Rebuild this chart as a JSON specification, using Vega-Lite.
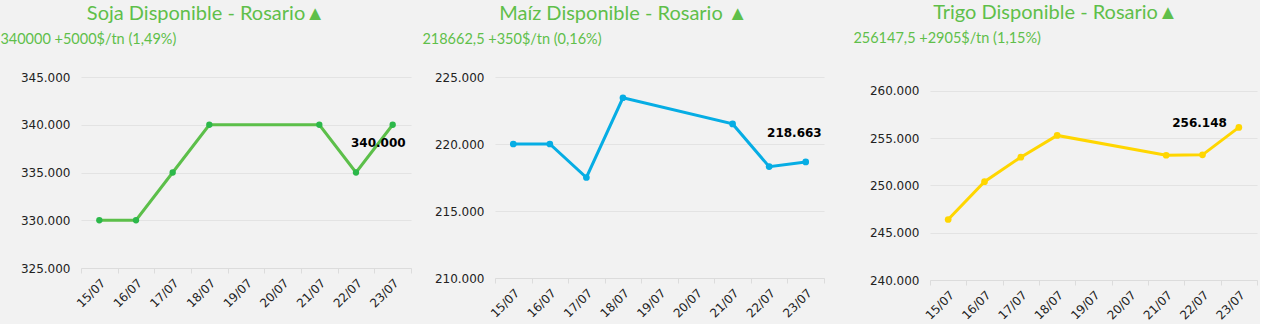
{
  "$schema": "https://vega.github.io/schema/vega-lite/v6.json",
  "background": "#f2f2f2",
  "padding": {"left": 0, "top": 2, "right": 2, "bottom": 2},
  "config": {
    "locale": {"number": {"decimal": ",", "thousands": ".", "grouping": [3], "currency": ["$", ""]}},
    "view": {"stroke": null},
    "font": "DejaVu Sans",
    "axisY": {"labelFont": "DejaVu Sans", "labelFontSize": 12, "labelColor": "#222222", "gridColor": "#e3e3e3", "domain": false, "ticks": false, "title": null, "labelPadding": 11},
    "axisX": {"labelFont": "DejaVu Sans", "labelFontSize": 12, "labelColor": "#222222", "grid": false, "domain": true, "domainColor": "#dcdcdc", "ticks": true, "tickColor": "#dcdcdc", "tickSize": 5, "labelAngle": -45, "tickBand": "extent", "title": null, "labelPadding": 4}
  },
  "datasets": {
    "soja": [
      {"fecha": "15/07", "valor": 330000},
      {"fecha": "16/07", "valor": 330000},
      {"fecha": "17/07", "valor": 335000},
      {"fecha": "18/07", "valor": 340000},
      {"fecha": "21/07", "valor": 340000},
      {"fecha": "22/07", "valor": 335000},
      {"fecha": "23/07", "valor": 340000}
    ],
    "maiz": [
      {"fecha": "15/07", "valor": 220000},
      {"fecha": "16/07", "valor": 220000},
      {"fecha": "17/07", "valor": 217500},
      {"fecha": "18/07", "valor": 223450},
      {"fecha": "21/07", "valor": 221500},
      {"fecha": "22/07", "valor": 218312.5},
      {"fecha": "23/07", "valor": 218662.5}
    ],
    "trigo": [
      {"fecha": "15/07", "valor": 246400},
      {"fecha": "16/07", "valor": 250400},
      {"fecha": "17/07", "valor": 253000},
      {"fecha": "18/07", "valor": 255300},
      {"fecha": "21/07", "valor": 253200},
      {"fecha": "22/07", "valor": 253242.5},
      {"fecha": "23/07", "valor": 256147.5}
    ]
  },
  "spacing": 10,
  "hconcat": [
    {
      "title": {"text": "Soja Disponible - Rosario▲", "anchor": "middle", "frame": "bounds", "font": "Lato", "fontSize": 20, "fontWeight": "normal", "color": "#5fbf4a", "offset": 8},
      "vconcat": [
        {
          "title": {"text": "340000 +5000$/tn (1,49%)", "anchor": "start", "frame": "bounds", "dx": -20, "font": "Lato", "fontSize": 14.5, "fontWeight": "normal", "color": "#5fbf4a", "offset": 24},
          "width": 330,
          "height": 191,
          "data": {"name": "soja"},
          "encoding": {
            "x": {"field": "fecha", "type": "ordinal", "scale": {"type": "band", "domain": ["15/07", "16/07", "17/07", "18/07", "19/07", "20/07", "21/07", "22/07", "23/07"], "paddingInner": 0, "paddingOuter": 0}},
            "y": {"field": "valor", "type": "quantitative", "scale": {"domain": [325000, 345000], "nice": false, "zero": false}, "axis": {"values": [325000, 330000, 335000, 340000, 345000], "format": ",d"}}
          },
          "layer": [
            {"mark": {"type": "line", "color": "#5cbf4a", "strokeWidth": 3}},
            {"mark": {"type": "point", "filled": true, "size": 40, "color": "#2cb84a", "opacity": 1}},
            {"transform": [{"filter": "datum.fecha == '23/07'"}], "mark": {"type": "text", "font": "DejaVu Sans", "fontWeight": "bold", "fontSize": 12, "align": "right", "baseline": "middle", "dx": 13, "dy": 18, "color": "#000000"}, "encoding": {"text": {"field": "valor", "type": "quantitative", "format": ",.0f"}}}
          ]
        }
      ]
    },
    {
      "spacing": 28,
      "hconcat": [
        {
          "title": {"text": "Maíz Disponible - Rosario ▲", "anchor": "middle", "frame": "bounds", "font": "Lato", "fontSize": 20, "fontWeight": "normal", "color": "#5fbf4a", "offset": 8},
          "vconcat": [
            {
              "title": {"text": "218662,5 +350$/tn (0,16%)", "anchor": "start", "frame": "bounds", "dx": -12, "font": "Lato", "fontSize": 14.5, "fontWeight": "normal", "color": "#5fbf4a", "offset": 24},
              "width": 329,
              "height": 201,
              "data": {"name": "maiz"},
              "encoding": {
                "x": {"field": "fecha", "type": "ordinal", "scale": {"type": "band", "domain": ["15/07", "16/07", "17/07", "18/07", "19/07", "20/07", "21/07", "22/07", "23/07"], "paddingInner": 0, "paddingOuter": 0}},
                "y": {"field": "valor", "type": "quantitative", "scale": {"domain": [210000, 225000], "nice": false, "zero": false}, "axis": {"values": [210000, 215000, 220000, 225000], "format": ",d"}}
              },
              "layer": [
                {"mark": {"type": "line", "color": "#06ade4", "strokeWidth": 3}},
                {"mark": {"type": "point", "filled": true, "size": 45, "color": "#06ade4", "opacity": 1}},
                {"transform": [{"filter": "datum.fecha == '23/07'"}], "mark": {"type": "text", "font": "DejaVu Sans", "fontWeight": "bold", "fontSize": 12, "align": "right", "baseline": "middle", "dx": 16, "dy": -29, "color": "#000000"}, "encoding": {"text": {"field": "valor", "type": "quantitative", "format": ",.0f"}}}
              ]
            }
          ]
        },
        {
          "title": {"text": "Trigo Disponible - Rosario▲", "anchor": "middle", "frame": "bounds", "font": "Lato", "fontSize": 20, "fontWeight": "normal", "color": "#5fbf4a", "offset": 8},
          "vconcat": [
            {
              "title": {"text": "256147,5 +2905$/tn (1,15%)", "anchor": "start", "frame": "bounds", "dx": -16, "font": "Lato", "fontSize": 14.5, "fontWeight": "normal", "color": "#5fbf4a", "offset": 31},
              "width": 327,
              "height": 203,
              "data": {"name": "trigo"},
              "encoding": {
                "x": {"field": "fecha", "type": "ordinal", "scale": {"type": "band", "domain": ["15/07", "16/07", "17/07", "18/07", "19/07", "20/07", "21/07", "22/07", "23/07"], "paddingInner": 0, "paddingOuter": 0}},
                "y": {"field": "valor", "type": "quantitative", "scale": {"domain": [240000, 261481], "nice": false, "zero": false}, "axis": {"values": [240000, 245000, 250000, 255000, 260000], "format": ",d"}}
              },
              "layer": [
                {"mark": {"type": "line", "color": "#ffd600", "strokeWidth": 3}},
                {"mark": {"type": "point", "filled": true, "size": 45, "color": "#ffd600", "opacity": 1}},
                {"transform": [{"filter": "datum.fecha == '23/07'"}], "mark": {"type": "text", "font": "DejaVu Sans", "fontWeight": "bold", "fontSize": 12, "align": "right", "baseline": "middle", "dx": -12, "dy": -4, "color": "#000000"}, "encoding": {"text": {"field": "valor", "type": "quantitative", "format": ",.0f"}}}
              ]
            }
          ]
        }
      ]
    }
  ]
}
